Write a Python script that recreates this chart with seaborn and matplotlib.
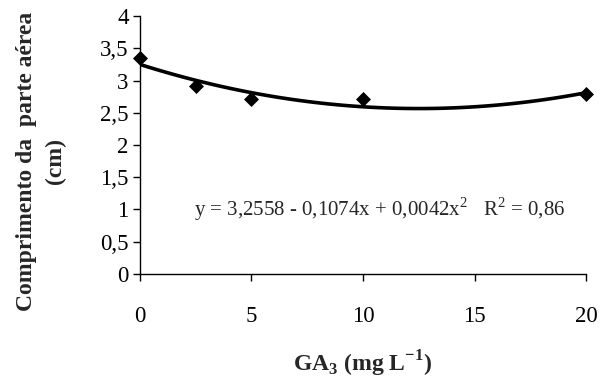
import numpy as np
import pandas as pd
import seaborn as sns
import matplotlib.pyplot as plt

# dados
ga3 = [0, 2.5, 5, 10, 20]
comprimento = [3.35, 2.91, 2.71, 2.71, 2.79]
equacao = "y = 3,2558 - 0,1074x + 0,0042x$^2$   R$^2$ = 0,86"
xticks = [0, 5, 10, 15, 20]
yticks = [0, 0.5, 1, 1.5, 2, 2.5, 3, 3.5, 4]
ytick_labels = ["0", "0,5", "1", "1,5", "2", "2,5", "3", "3,5", "4"]

df = pd.DataFrame({"ga3": ga3, "comp": comprimento})

sns.set_style("ticks")
plt.rcParams["font.family"] = ["Liberation Serif", "DejaVu Serif"]
plt.rcParams["mathtext.fontset"] = "custom"
plt.rcParams["mathtext.rm"] = "Liberation Serif"
plt.rcParams["mathtext.bf"] = "Liberation Serif:bold"

fig = plt.figure(figsize=(6, 3.83), dpi=100)
ax = fig.add_axes([0.233, 0.285, 0.744, 0.673])

# curva de tendencia polinomial (2a ordem)
sns.regplot(data=df, x="ga3", y="comp", order=2, ci=None, scatter=False,
            line_kws={"color": "black", "lw": 2.6}, ax=ax)
sns.scatterplot(data=df, x="ga3", y="comp", marker="D", s=50, color="black",
                edgecolor="black", zorder=5, clip_on=False, ax=ax)

ax.set_xlim(0, 20)
ax.set_ylim(0, 4)
ax.set_xticks(xticks)
ax.set_yticks(yticks)
ax.set_yticklabels(ytick_labels)
ax.tick_params(axis="both", labelsize=16.5, length=5, width=1, color="black", labelcolor="black")
ax.tick_params(axis="x", pad=18)
ax.tick_params(axis="y", pad=3)
for s in ["top", "right"]:
    ax.spines[s].set_visible(False)
for s in ["left", "bottom"]:
    ax.spines[s].set_color("black")
    ax.spines[s].set_linewidth(1)

ax.text(2.45, 1.0, equacao, fontsize=15, va="center", ha="left")

ax.set_xlabel(r"GA$_\mathbf{3}$ (mg L$^\mathbf{-1}$)", fontsize=17, fontweight="bold", labelpad=16)
ax.set_ylabel("Comprimento da  parte aérea\n(cm)", fontsize=17, fontweight="bold",
              linespacing=1.5)
ax.yaxis.set_label_coords(-0.165, 0.438)

plt.savefig("out.png", dpi=100)
